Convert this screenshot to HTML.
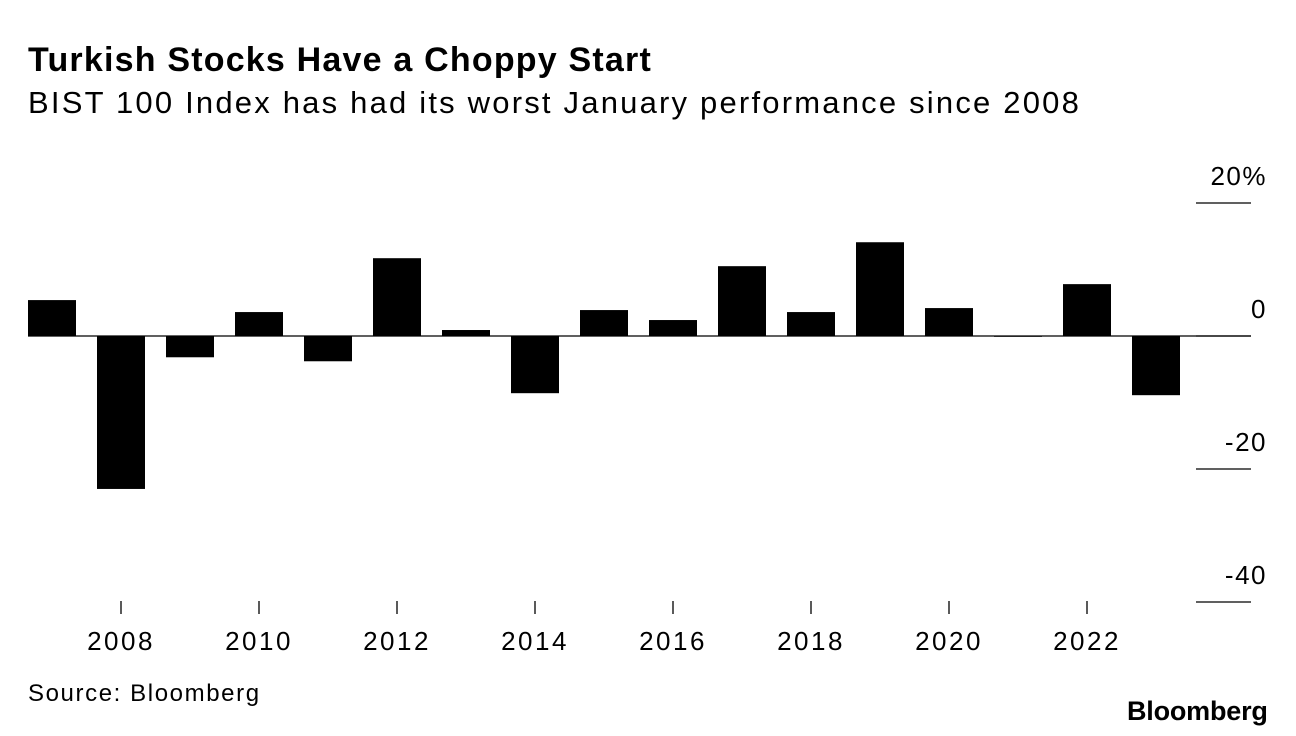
<!DOCTYPE html>
<html><head><meta charset="utf-8"><style>
body{margin:0;width:1296px;height:736px;background:#fff;font-family:"Liberation Sans",sans-serif;overflow:hidden;position:relative}
.t{position:absolute;white-space:nowrap;color:#000}
</style></head><body>
<div class="t" style="left:28px;top:41px;font-size:34px;font-weight:bold;letter-spacing:1.2px">Turkish Stocks Have a Choppy Start</div>
<div class="t" style="left:28px;top:85px;font-size:31px;letter-spacing:2.2px">BIST 100 Index has had its worst January performance since 2008</div>
<svg id="chart" width="1296" height="736" style="position:absolute;left:0;top:0"></svg>
<div class="t" style="left:28px;top:680px;font-size:24px;letter-spacing:1.6px">Source: Bloomberg</div>
<div class="t" style="left:1127px;top:696px;font-size:27px;font-weight:bold;letter-spacing:-0.2px">Bloomberg</div>
<script>
const years=[2007,2008,2009,2010,2011,2012,2013,2014,2015,2016,2017,2018,2019,2020,2021,2022,2023];
const values=[5.4,-23,-3.2,3.6,-3.8,11.7,0.9,-8.6,3.9,2.4,10.5,3.6,14.1,4.2,-0.1,7.8,-8.9];
const yTicks=[20,0,-20,-40];
const yTickLabels=["20%","0","-20","-40"];
const xTicks=[2008,2010,2012,2014,2016,2018,2020,2022];
const NS="http://www.w3.org/2000/svg";
const svg=document.getElementById('chart');
const y=v=>336-v*6.65;
const x=yr=>52+(yr-2007)*69;
function mk(tag,attrs){const e=document.createElementNS(NS,tag);for(const k in attrs)e.setAttribute(k,attrs[k]);svg.appendChild(e);return e;}
yTicks.forEach((v,i)=>{
  const l=mk('line',{x1:1196,x2:1251,y1:y(v),y2:y(v),stroke:'#000','stroke-width':1.3});
  
  
  const t=mk('text',{x:1267,y:y(v)-18,'text-anchor':'end','font-size':26,'letter-spacing':1.5,'font-family':'Liberation Sans, sans-serif'});
  t.textContent=yTickLabels[i];
  
  
});
years.forEach((yr,i)=>{
  const v=values[i];
  const top=Math.min(y(v),y(0)),h=Math.max(Math.abs(y(v)-y(0)),0.8);
  const r=mk('rect',{x:x(yr)-24,y:top,width:48,height:h,fill:'#000'});
  
  
});
const z=mk('line',{x1:28,x2:1251,y1:y(0),y2:y(0),stroke:'#000','stroke-width':1.3});


xTicks.forEach(yr=>{
  const l=mk('line',{x1:x(yr),x2:x(yr),y1:601,y2:614,stroke:'#000','stroke-width':1.3});
  
  
  const t=mk('text',{x:x(yr),y:650,'text-anchor':'middle','font-size':26,'letter-spacing':2.5,'font-family':'Liberation Sans, sans-serif'});
  t.textContent=yr;
  
  
});
</script>
</body></html>
